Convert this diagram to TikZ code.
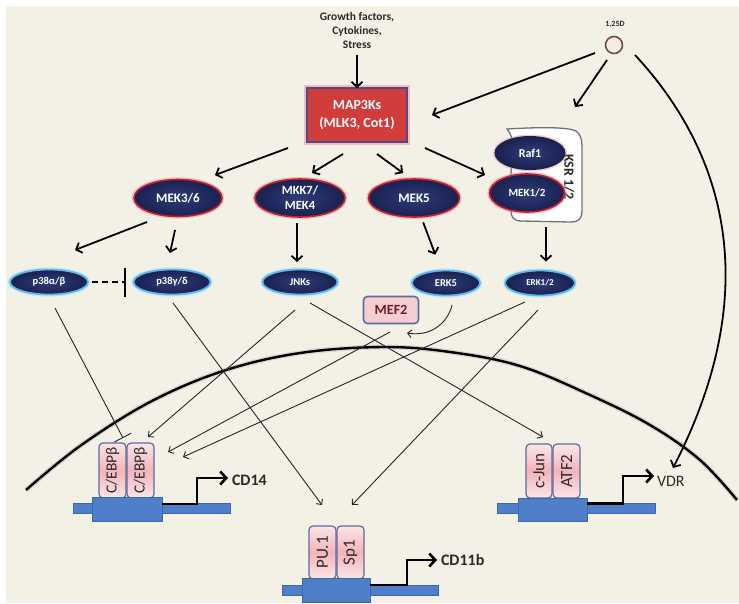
\documentclass[tikz,border=0pt]{standalone}
\usepackage{fontspec}
\usepackage{graphicx}
\setmainfont{Carlito}
\usetikzlibrary{arrows.meta,shapes.geometric,calc}
\definecolor{bg}{HTML}{F3F1E6}
\definecolor{navy}{HTML}{1A2150}
\definecolor{navyin}{HTML}{2E3C7A}
\definecolor{mekred}{HTML}{C0202E}
\definecolor{glowred}{HTML}{E8979C}
\definecolor{cyanb}{HTML}{5DB8EA}
\definecolor{glowcyan}{HTML}{B5E2F6}
\definecolor{mapfill}{HTML}{D13C3C}
\definecolor{mapdraw}{HTML}{4D4A8E}
\definecolor{mapglow}{HTML}{F2A7A7}
\definecolor{tfpink}{HTML}{F3B3BA}
\definecolor{tflight}{HTML}{FCE6E7}
\definecolor{tfdraw}{HTML}{5B6C9E}
\definecolor{dna}{HTML}{4E7FC8}
\definecolor{dnadraw}{HTML}{3B68AE}
\definecolor{meffill}{HTML}{F6CDD0}
\definecolor{meftext}{HTML}{6E1E2A}
\definecolor{vdfill}{HTML}{FCEAE4}
\definecolor{vddraw}{HTML}{6B5048}
\definecolor{txt}{HTML}{2A2A2A}
\tikzset{
  every node/.style={inner sep=0pt, outer sep=0pt},
  arr/.style={line width=1.8pt, draw=black, -{Straight Barb[length=5pt,width=11pt]}},
  tarr/.style={line width=0.9pt, draw=black!85, -{Straight Barb[length=4pt,width=8pt]}},
  mekell/.style={ellipse, inner color=navyin, outer color=navy, draw=mekred, line width=1.6pt,
    preaction={draw=glowred, line width=4.5pt, opacity=0.5},
    text=white, font=\fontsize{13}{14}\selectfont\bfseries, align=center},
  rafell/.style={ellipse, inner color=navyin, outer color=navy, draw=navy, line width=1pt,
    preaction={draw=glowred, line width=4pt, opacity=0.5},
    text=white, font=\fontsize{12}{14}\selectfont\bfseries},
  erkell/.style={ellipse, inner color=navyin, outer color=navy, draw=cyanb, line width=1.8pt,
    preaction={draw=glowcyan, line width=4.5pt, opacity=0.6},
    text=white, font=\fontsize{10.5}{12}\selectfont\bfseries, minimum height=25pt},
  tfbox/.style={rectangle, rounded corners=4pt, draw=tfdraw, line width=1.2pt,
    top color=tflight, bottom color=tflight, middle color=tfpink,
    text=txt, font=\fontsize{15.5}{17}\selectfont},
  dnabar/.style={rectangle, fill=dna, draw=dnadraw, line width=0.6pt},
  prom/.style={line width=2.6pt, draw=black, -{Straight Barb[length=6pt,width=13pt]}},
  genelbl/.style={anchor=west, text=txt, font=\fontsize{16}{18}\selectfont\bfseries},
  membrane/.style={line width=2.4pt, draw=black, preaction={draw=black!35, line width=5pt, opacity=0.35}}
}
\begin{document}
\begin{tikzpicture}[x=1pt,y=-1pt]
\useasboundingbox (0,0) rectangle (739,603);
\fill[white] (0,0) rectangle (739,603);
\fill[bg] (6,6) rectangle (739,603);

% nuclear membrane
\draw[membrane] plot[smooth, tension=0.6] coordinates {(26,490) (80,446) (150,402) (223,371) (300,353) (383,347) (450,352) (520,366) (590,395) (650,425) (700,460) (737,500)};

% top
\node[align=center, text=txt, font=\fontsize{11.5}{14}\selectfont\bfseries] (gf) at (357,31) {Growth factors,\\Cytokines,\\Stress};
\node[rectangle, fill=mapfill, draw=mapdraw, line width=1.6pt, minimum width=100pt, minimum height=54pt,
  preaction={draw=mapglow, line width=6pt, opacity=0.7},
  text=white, align=center, font=\fontsize{14}{18}\selectfont\bfseries] (map3k) at (357,115) {MAP3Ks\\(MLK3, Cot1)};
\node[circle, fill=vdfill, draw=vddraw, line width=1.6pt, minimum size=17pt] (vd) at (614,45) {};
\node[text=txt, font=\fontsize{8}{9}\selectfont\bfseries] (vdlbl) at (615,24) {1,25D};

% KSR scaffold
\draw[fill=white, draw=black!55, line width=1.3pt] (507,129) .. controls (540,127) and (568,127) .. (576,131) .. controls (582,135) and (582,142) .. (582,152) -- (582,210) .. controls (582,219) and (579,222) .. (570,222) -- (522,221) .. controls (514,221) and (511,218) .. (511,210) -- (511,174) .. controls (511,168) and (513,160) .. (513,150) .. controls (513,140) and (511,133) .. (507,129) -- cycle;
\node[minimum width=74pt, minimum height=93pt] (ksr) at (545,175.5) {};
\node[rotate=-90, text=txt, font=\fontsize{14}{16}\selectfont\bfseries] (ksrlbl) at (569,177) {KSR 1/2};
\node[rafell, minimum width=70pt, minimum height=33pt] (raf1) at (530,153) {Raf1};
\node[mekell, minimum width=75pt, minimum height=38pt, font=\fontsize{11}{13}\selectfont\bfseries] (mek12) at (527,193) {MEK1/2};

% MAP2K row
\node[mekell, minimum width=88pt, minimum height=37pt] (mek36) at (178,198) {MEK3/6};
\node[mekell, minimum width=90pt, minimum height=38pt, font=\fontsize{12.5}{15}\selectfont\bfseries] (mkk7) at (300,198) {MKK7/\\MEK4};
\node[mekell, minimum width=91pt, minimum height=38pt] (mek5) at (414,198) {MEK5};

% MAPK row
\node[erkell, minimum width=78pt] (p38ab) at (49,282) {p38α/β};
\node[erkell, minimum width=77pt] (p38gd) at (172,282) {p38γ/δ};
\node[erkell, minimum width=75pt] (jnks) at (300,282) {JNKs};
\node[erkell, minimum width=68pt] (erk5) at (446,283) {ERK5};
\node[erkell, minimum width=70pt, font=\fontsize{9}{10}\selectfont\bfseries] (erk12) at (540,283) {ERK1/2};
\node[rectangle, rounded corners=4pt, fill=meffill, draw=tfdraw, line width=1.6pt, minimum width=55pt, minimum height=27pt,
  text=meftext, font=\fontsize{14}{16}\selectfont\bfseries] (mef2) at (391,310) {MEF2};

% genes
\node[dnabar, minimum width=157pt, minimum height=10pt] (cd14bar) at (151.5,508) {};
\node[tfbox, minimum width=27pt, minimum height=55pt] (cebp1) at (112.5,470.5) {\rotatebox{90}{C/EBPβ}};
\node[tfbox, minimum width=27pt, minimum height=55pt] (cebp2) at (140.5,470.5) {\rotatebox{90}{C/EBPβ}};
\node[dnabar, minimum width=70pt, minimum height=24pt] (cd14blk) at (127,509) {};
\node[genelbl] (cd14lbl) at (232,480) {CD14};

\node[dnabar, minimum width=156pt, minimum height=10pt] (cd11bar) at (360,590) {};
\node[tfbox, minimum width=27pt, minimum height=53pt, font=\fontsize{17}{19}\selectfont] (pu1) at (322.5,552.5) {\rotatebox{90}{PU.1}};
\node[tfbox, minimum width=27pt, minimum height=53pt, font=\fontsize{17}{19}\selectfont] (sp1) at (350.5,552.5) {\rotatebox{90}{Sp1}};
\node[dnabar, minimum width=68pt, minimum height=24pt] (cd11blk) at (336,590) {};
\node[genelbl] (cd11lbl) at (441,560) {CD11b};

\node[dnabar, minimum width=158pt, minimum height=10pt] (vdrbar) at (576,508) {};
\node[tfbox, minimum width=26pt, minimum height=54pt, font=\fontsize{17}{19}\selectfont] (cjun) at (539,471) {\rotatebox{90}{c-Jun}};
\node[tfbox, minimum width=27pt, minimum height=54pt, font=\fontsize{17}{19}\selectfont] (atf2) at (566.5,471) {\rotatebox{90}{ATF2}};
\node[dnabar, minimum width=69pt, minimum height=23pt] (vdrblk) at (552.5,509.5) {};
\node[genelbl, font=\fontsize{16}{18}\selectfont] (vdrlbl) at (657,481) {VDR};

% free ends of connectors
\coordinate (t1) at (432,115);
\coordinate (t2) at (575,107);
\coordinate (tvdr) at (673,468);
\coordinate (t36) at (215,175);
\coordinate (tmkk) at (312,173);
\coordinate (tmek5) at (403,173);
\coordinate (tmek12) at (485,175);
\coordinate (tp38ab) at (75,250);
\coordinate (tp38gd) at (170,253);
\coordinate (tcebp0) at (123,438);
\coordinate (tpu1a) at (322,505);
\coordinate (tcebp1) at (148,437);
\coordinate (tcjun) at (543,437);
\coordinate (tcebp2) at (168,452);
\coordinate (tcebp3) at (183,457);
\coordinate (tpu1b) at (352,505);
\coordinate (tmef2) at (407,333);

% upper arrows
\draw[arr, shorten <=6pt] (gf) -- (map3k);
\draw[arr] ([shift={(-19,8)}]vd.center) -- (t1);
\draw[arr] ([shift={(-7,15)}]vd.center) -- (t2);
\draw[arr] ([shift={(21,10)}]vd.center) .. controls (700,125) and (780,260) .. (tvdr);
\draw[arr] ([shift={(-19,6)}]map3k.south west) -- (t36);
\draw[arr] ([shift={(-14,12)}]map3k.south) -- (tmkk);
\draw[arr] ([shift={(20,12)}]map3k.south) -- (tmek5);
\draw[arr] ([shift={(18,6)}]map3k.south east) -- (tmek12);
\draw[arr] ([shift={(-31,5.5)}]mek36.south) -- (tp38ab);
\draw[arr] ([shift={(-3,13.5)}]mek36.south) -- (tp38gd);
\draw[arr, shorten <=6pt, shorten >=7.5pt] ([xshift=-3pt]mkk7.south) -- ([xshift=-3pt]jnks.north);
\draw[arr, shorten <=6pt, shorten >=17pt] (mek5) -- (erk5);
\draw[arr, shorten <=5pt, shorten >=9pt] ([xshift=1pt]ksr.south) -- ([xshift=1pt]ksr.south |- erk12.north);
\draw[line width=2pt, dash pattern=on 6pt off 4pt, -{Bar[width=29pt]}, shorten <=4pt, shorten >=7.5pt] (p38ab) -- (p38gd);

% nuclear connectors
\draw[line width=0.9pt, draw=black!85, -{Bar[width=19pt]}] ([shift={(6,13.5)}]p38ab.south) -- (tcebp0);
\draw[tarr] ([shift={(1,8.5)}]p38gd.south) -- (tpu1a);
\draw[tarr] ([shift={(-5,15.5)}]jnks.south) -- (tcebp1);
\draw[tarr] ([shift={(10,8.5)}]jnks.south) -- (tcjun);
\draw[tarr] ([shift={(-1,8.5)}]mef2.south) -- (tcebp2);
\draw[tarr] ([shift={(-15,6.5)}]erk12.south) -- (tcebp3);
\draw[tarr] ([shift={(-2,14.5)}]erk12.south) -- (tpu1b);
\draw[tarr] ([shift={(6,9.5)}]erk5.south) .. controls (448,322) and (432,337) .. (tmef2);

% promoter arrows
\draw[prom] ([shift={(0,-5)}]cd14blk.east) -| ([shift={(-35,-2)}]cd14lbl.west) -- ([shift={(-4,-2)}]cd14lbl.west);
\draw[prom] ([shift={(0,-5)}]cd11blk.east) -| ([shift={(-34,0)}]cd11lbl.west) -- ([shift={(-4,0)}]cd11lbl.west);
\draw[prom] ([shift={(0,-6)}]vdrblk.east) -| ([shift={(-34,-5)}]vdrlbl.west) -- ([shift={(-3,-5)}]vdrlbl.west);
\end{tikzpicture}
\end{document}
